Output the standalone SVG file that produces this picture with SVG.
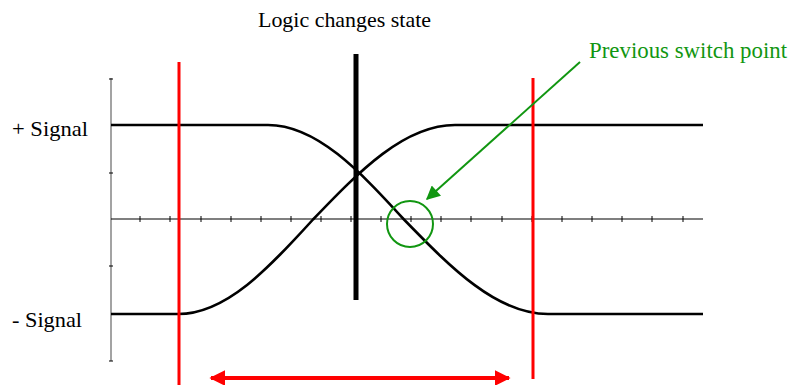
<svg xmlns="http://www.w3.org/2000/svg" width="791" height="385" viewBox="0 0 791 385">
<defs>
<style>
.lbl{font-family:"Liberation Serif","Times New Roman",serif;fill:#000}
.grn{font-family:"Liberation Serif","Times New Roman",serif;fill:#119611}
.axis{stroke:#000;stroke-width:1.2;fill:none}
.vaxis{stroke:#666;stroke-width:1.2;fill:none}
.tick{stroke:#000;stroke-width:1;fill:none}
.sig{stroke:#000;stroke-width:2.6;fill:none}
.red{stroke:#ff0000;stroke-width:3;fill:none}
</style>
<marker id="redHead" viewBox="0 0 10 10" refX="9" refY="5" markerWidth="4" markerHeight="4" orient="auto-start-reverse" markerUnits="strokeWidth">
<path d="M0,0 L10,5 L0,10 Z" fill="#ff0000"/>
</marker>
<marker id="grnHead" viewBox="0 0 10 10" refX="9" refY="5" markerWidth="8" markerHeight="7" orient="auto" markerUnits="strokeWidth">
<path d="M0,0 L10,5 L0,10 Z" fill="#119611"/>
</marker>
</defs>
<rect width="791" height="385" fill="#fff"/>

<g id="axes">
<path class="vaxis" d="M111,78 V361"/>
<path class="tick" d="M109,79 H113 M109,173 H113 M109,266 H113 M109,361 H113"/>
<path class="axis" d="M111,219 H703"/>
<path class="tick" d="M140,216 V222 M170,216 V222 M201,216 V222 M231,216 V222 M261,216 V222 M291,216 V222 M321,216 V222 M351,216 V222 M381,216 V222 M411,216 V222 M441,216 V222 M471,216 V222 M502,216 V222 M532,216 V222 M562,216 V222 M592,216 V222 M622,216 V222 M652,216 V222 M683,216 V222"/>
</g>

<g id="plus-signal">
<path class="sig" d="M111,125 H268 C316.6,125 359.7,171.1 404,219.5 C451,267.9 496.6,314 548,314 H703"/>
</g>
<g id="minus-signal">
<path class="sig" d="M111,314 H178 C226.2,314 269,267.9 313,219.5 C359.3,171.1 404.3,125 455,125 H703"/>
</g>

<g id="logic-line">
<line x1="356" y1="54" x2="356" y2="300" stroke="#000" stroke-width="5"/>
</g>

<g id="red-lines">
<line class="red" x1="179" y1="62" x2="179" y2="385"/>
<line class="red" x1="533" y1="78" x2="533" y2="379"/>
</g>

<g id="connectors">
<line x1="211" y1="378" x2="509" y2="378" stroke="#ff0000" stroke-width="4" marker-start="url(#redHead)" marker-end="url(#redHead)"/>
<line x1="580" y1="62" x2="427" y2="199" stroke="#119611" stroke-width="2" marker-end="url(#grnHead)"/>
</g>

<g id="switch-circle">
<circle cx="410" cy="224" r="23" fill="none" stroke="#119611" stroke-width="2"/>
</g>

<g id="labels">
<text class="lbl" x="258" y="27" font-size="21.5" textLength="173" lengthAdjust="spacingAndGlyphs">Logic changes state</text>
<text class="lbl" x="12" y="136" font-size="21.5" textLength="76" lengthAdjust="spacingAndGlyphs">+ Signal</text>
<text class="lbl" x="12" y="327" font-size="21.5" textLength="70" lengthAdjust="spacingAndGlyphs">- Signal</text>
<text class="grn" x="589" y="58" font-size="22.5" textLength="198" lengthAdjust="spacingAndGlyphs">Previous switch point</text>
</g>
</svg>
